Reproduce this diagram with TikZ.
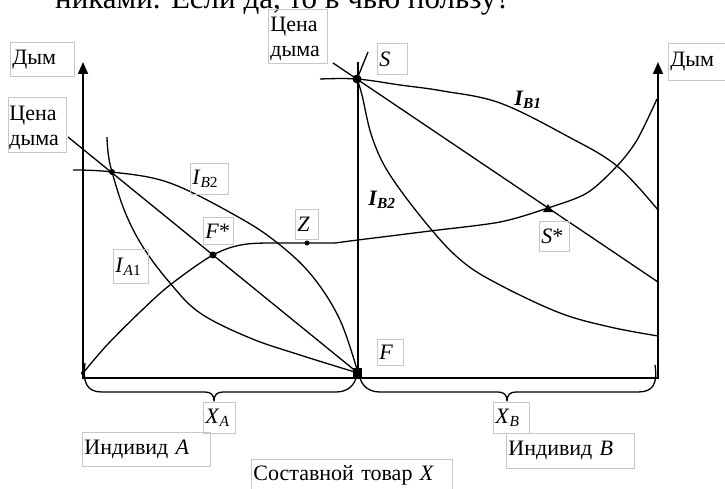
\documentclass[tikz,border=0pt]{standalone}
\usepackage{fontspec}
\setmainfont{Liberation Serif}
\usetikzlibrary{arrows.meta}
\newcommand{\lblfont}{\fontsize{22}{25}\selectfont}
\begin{document}
\begin{tikzpicture}[x=1pt,y=-1pt,
  curve/.style={line width=1.3pt, line join=round},
  axisline/.style={line width=1.8pt},
  axisarrow/.style={line width=1.8pt, -{Triangle[length=12pt,width=10pt]}},
  lab/.style={draw=black!22, line width=0.8pt, inner xsep=2pt, inner ysep=0pt, anchor=north west, font=\lblfont, align=left},
  boldlab/.style={font=\lblfont\bfseries\itshape, inner sep=0pt}
]
\useasboundingbox (0,0) rectangle (725,489);

% clipped text line at the top
\begin{scope}
\clip (0,0) rectangle (725,489);
\node[anchor=base west, font=\fontsize{31}{33}\selectfont, inner sep=0pt] (toptext) at (55,9) {никами. Если да, то в чью пользу?};
\end{scope}

% key points
\coordinate (OA) at (83,373);
\coordinate (K) at (112,172);
\coordinate (Fs) at (213,255);
\coordinate (Z) at (307,243);
\coordinate (F) at (358,373);
\coordinate (S) at (357,79);
\coordinate (Ss) at (548,208);

% axes
\coordinate (aAb) at (83,379); \coordinate (aAt) at (83,62);
\coordinate (aBb) at (658,379); \coordinate (aBt) at (658,62);
\coordinate (mb) at (358,378); \coordinate (mt) at (358,62);
\coordinate (xl) at (83,378); \coordinate (xr) at (658,378);
\draw[axisarrow] (aAb) -- (aAt);
\draw[axisarrow] (aBb) -- (aBt);
\draw[axisline] (mb) -- (mt);
\draw[axisline] (xl) -- (xr);

% left box curves
\coordinate (pA0) at (68,137);
\draw[curve] (pA0) -- (F);
\draw[curve] plot[smooth, tension=0.6] coordinates {(73,170) (K) (170,183) (240,218) (280,245) (313,277) (340,320) (F)};
\draw[curve] plot[smooth, tension=0.6] coordinates {(107,137) (108,152) (K) (125,212) (143,247) (170,283) (200,313) (250,338) (300,355) (F)};
% contract curve
\draw[curve] plot[smooth, tension=0.5] coordinates {(OA) (107,345) (140,312) (170,285) (Fs) (247,244) (Z) (335,243)};
\draw[curve] plot[smooth, tension=0.5] coordinates {(335,243) (358,240) (430,231) (500,222) (Ss) (587,193) (617,166) (637,140) (657,99)};

% right box curves
\coordinate (pS0) at (333,63);
\coordinate (pS1) at (658,282);
\draw[curve] (pS0) -- (pS1);
\draw[curve] plot[smooth, tension=0.6] coordinates {(320,79) (S) (400,85) (443,91) (500,103) (567,136) (617,166) (658,210)};
\coordinate (Stop) at (368,52);
\draw[curve] (Stop) -- (S);
\draw[curve] plot[smooth, tension=0.6] coordinates {(S) (362,95) (372,137) (390,175) (430,228) (463,262) (500,285) (560,313) (610,327) (658,336)};

% braces
\draw[curve] (85,363) .. controls (82,384) and (88,392) .. (102,392) -- (205,392) .. controls (211,392) and (214,395) .. (214,401) .. controls (214,395) and (217,392) .. (223,392) -- (336,392) .. controls (348,392) and (354,385) .. (356,378);
\draw[curve] (360,378) .. controls (362,385) and (368,392) .. (380,392) -- (498,392) .. controls (504,392) and (507,395) .. (507,401) .. controls (507,395) and (510,392) .. (516,392) -- (638,392) .. controls (652,392) and (658,385) .. (655,365);

% markers
\fill (OA) circle (2);
\fill (K) circle (3);
\fill (Fs) circle (3.5);
\fill (Z) circle (2.5);
\fill (S) circle (4.5);
\fill (543,212) -- (553,212) -- (548,204) -- cycle;
\fill (353,368) rectangle (362,377);

% labels
\node[lab, text width=60pt, minimum height=34pt] (dymA) at (10,42) {Дым};
\node[lab, text width=56pt, minimum height=55pt, inner xsep=1pt] (priceA) at (8,97) {\rule{0pt}{20pt}Цена\\дыма};
\node[lab, text width=55pt, minimum height=54pt] (priceS) at (268,9) {\rule{0pt}{20pt}Цена\\дыма};
\node[lab, text width=26pt, minimum height=31pt] (Slab) at (377,43) {\textit{S}};
\node[lab, text width=53pt, minimum height=37pt] (dymB) at (668,43) {Дым};
\node[lab, text width=34pt, minimum height=31pt] (IB2lab) at (190,163) {\textit{I}\textsubscript{\textit{B}2}};
\node[lab, text width=26pt, minimum height=27pt] (Fslab) at (203,217) {\textit{F}*};
\node[lab, text width=19pt, minimum height=30pt] (Zlab) at (295,209) {\textit{Z}};
\node[lab, text width=31pt, minimum height=34pt] (IA1lab) at (113,249) {\textit{I}\textsubscript{\textit{A}1}};
\node[lab, text width=26pt, minimum height=30pt] (Sslab) at (539,221) {\textit{S}*};
\node[lab, text width=22pt, minimum height=26pt] (Flab) at (377,339) {\textit{F}};
\node[lab, text width=28pt, minimum height=31pt] (XAlab) at (203,402) {\textit{X}\textsubscript{\textit{A}}};
\node[lab, text width=124pt, minimum height=34pt] (IndA) at (82,432) {Индивид \textit{A}};
\node[lab, text width=197pt, minimum height=32pt] (Comp) at (251,459) {Составной товар \textit{X}};
\node[lab, text width=32pt, minimum height=31pt] (XBlab) at (493,402) {\textit{X}\textsubscript{\textit{B}}};
\node[lab, text width=124pt, minimum height=35pt] (IndB) at (506,433) {Индивид \textit{B}};

\node[boldlab] (IB2b) at (382,200) {I\textsubscript{B2}};
\node[boldlab] (IB1b) at (528,100) {I\textsubscript{B1}};
\end{tikzpicture}
\end{document}
